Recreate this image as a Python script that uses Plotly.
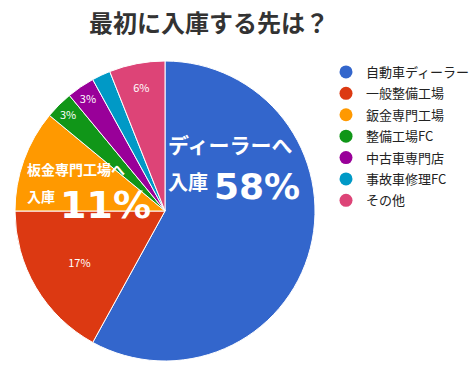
import plotly.graph_objects as go

W, H = 476, 376
labels = ["自動車ディーラー", "一般整備工場", "鈑金専門工場", "整備工場FC", "中古車専門店", "事故車修理FC", "その他"]
values = [58, 17, 11, 3, 3, 2, 6]
colors = ["#3366cc", "#dc3912", "#ff9900", "#109618", "#990099", "#0099c6", "#dd4477"]
show_label = [False, True, False, True, True, False, True]
title = "最初に入庫する先は？"

font = "Noto Sans CJK JP"

def px(x):
    return x / W

def py(y):
    return 1 - y / H

texts = [f"{v}%" if s else "" for v, s in zip(values, show_label)]

fig = go.Figure()
fig.add_trace(go.Pie(
    labels=labels, values=values, sort=False, direction="clockwise", rotation=0,
    marker=dict(colors=colors, line=dict(color="white", width=1)),
    text=texts, textinfo="text", textposition="inside", insidetextorientation="horizontal",
    textfont=dict(color="white", size=11, family=font),
    showlegend=False, hoverinfo="label+percent",
    domain=dict(x=[px(15), px(315)], y=[py(361), py(61)]),
))

for i, (lab, col) in enumerate(zip(labels, colors)):
    fig.add_trace(go.Scatter(x=[None], y=[None], mode="markers", name=lab, legendgroup=f"g{i}",
                             marker=dict(symbol="circle", size=13, color=col)))

ann = []
def add(text, x, y, size, fam=font):
    ann.append(dict(text=text, x=px(x), y=py(y), xref="paper", yref="paper",
                    xanchor="left", yanchor="middle", showarrow=False,
                    font=dict(color="white", size=size, family=fam)))

add("<b>ディーラーへ</b>", 166, 144, 21)
add("<b>入庫</b>", 166, 181, 20)
add("<b>58%</b>", 212, 186, 36, "DejaVu Sans")
add("<b>板金専門工場へ</b>", 25, 169, 14)
add("<b>入庫</b>", 25, 196, 14)
add("<b>11%</b>", 58, 205, 38, "DejaVu Sans")

fig.update_layout(
    width=W, height=H, margin=dict(l=0, r=0, t=0, b=0, autoexpand=False),
    paper_bgcolor="white", plot_bgcolor="white",
    title=dict(text="<b>" + title + "</b>", x=px(209), xanchor="center", y=py(24), yanchor="middle",
               font=dict(size=24, color="#333333", family=font)),
    xaxis=dict(visible=False), yaxis=dict(visible=False),
    legend=dict(x=px(326), xanchor="left", y=py(57), yanchor="top",
                font=dict(size=13, color="#222222", family=font),
                tracegroupgap=1.5, itemwidth=30, bgcolor="rgba(0,0,0,0)"),
    annotations=ann,
)
fig.write_html("out.html", config={"displayModeBar": False},
               post_script="document.body.style.margin='0';document.body.style.padding='0';")
